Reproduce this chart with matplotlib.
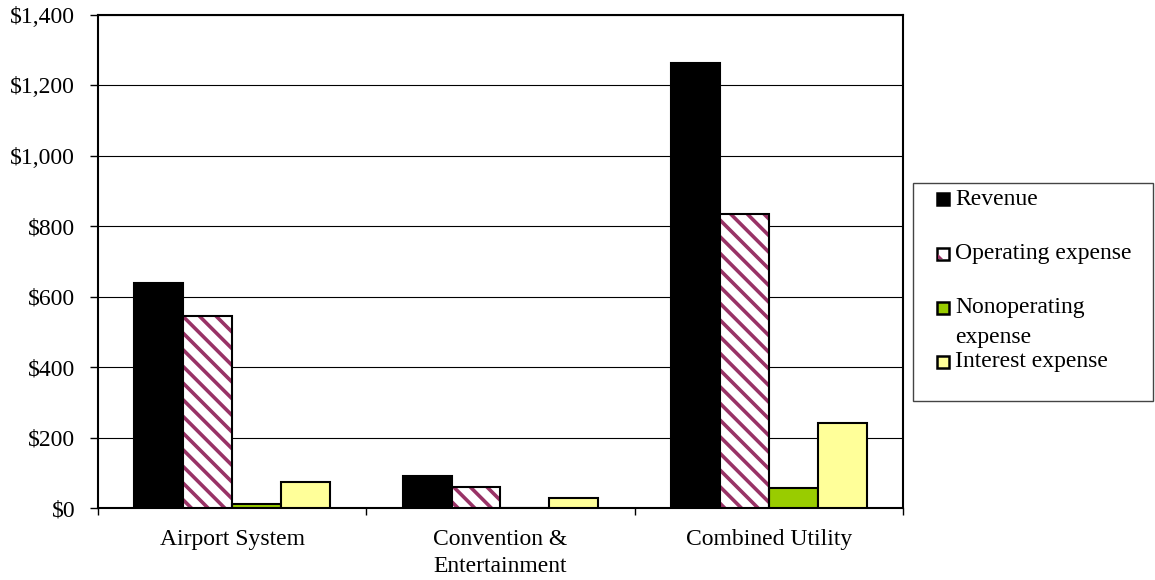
import matplotlib.pyplot as plt
import matplotlib.patches as mpatches
import numpy as np

categories = ['Airport System', 'Convention &\nEntertainment', 'Combined Utility']
series = ['Revenue', 'Operating expense', 'Nonoperating\nexpense', 'Interest expense']
revenue = [638, 91, 1263]
operating = [545, 60, 835]
nonoperating = [10, 1, 56]
interest = [75, 27, 242]
yticks = [0, 200, 400, 600, 800, 1000, 1200, 1400]

plt.rcParams['font.family'] = ['Liberation Serif', 'DejaVu Serif']
plt.rcParams['font.size'] = 17
plt.rcParams['hatch.linewidth'] = 2.6

W, H = 1155, 580
fig = plt.figure(figsize=(W / 100, H / 100), dpi=100)
ax = fig.add_axes([98 / W, 1 - 508 / H, (903 - 98) / W, (508 - 15) / H])

x = np.arange(len(categories)) + 0.5
w = 0.182
offs = (np.arange(4) - 1.5) * w

ax.bar(x + offs[0], revenue, w, color='black', edgecolor='black', lw=1.5, zorder=3)
ax.bar(x + offs[1], operating, w, color='white', edgecolor='#993366', hatch='\\\\', lw=0, zorder=3)
ax.bar(x + offs[1], operating, w, fill=False, edgecolor='black', lw=1.5, zorder=4)
ax.bar(x + offs[2], nonoperating, w, color='#99CC00', edgecolor='black', lw=1.5, zorder=3)
ax.bar(x + offs[3], interest, w, color='#FFFF99', edgecolor='black', lw=1.5, zorder=3)

ax.set_xlim(0, 3)
ax.set_ylim(0, 1400)
ax.set_yticks(yticks)
ax.set_yticklabels(['${:,}'.format(v) for v in yticks])
ax.yaxis.grid(True, color='black', lw=0.8)
ax.set_axisbelow(True)
ax.tick_params(axis='y', length=5.5, width=1, pad=11)

ax.set_xticks(x)
ax.set_xticklabels(categories, linespacing=1.4)
ax.set_xticks([0, 1, 2, 3], minor=True)
ax.tick_params(axis='x', which='major', length=0, pad=15)
ax.tick_params(axis='x', which='minor', length=5, width=1)

for s in ax.spines.values():
    s.set_linewidth(1.5)

# legend drawn by hand to keep Excel's spacing
fig.add_artist(mpatches.Rectangle((913 / W, 1 - 401 / H), (1153 - 913) / W, (401 - 183) / H,
                                  transform=fig.transFigure, fill=False, edgecolor='#444444', lw=1))
leg_y = [199, 254, 308, 362]
faces = ['black', 'white', '#99CC00', '#FFFF99']
for i, (lab, fc, yy) in enumerate(zip(series, faces, leg_y)):
    fig.add_artist(mpatches.Rectangle((937 / W, 1 - (yy + 6) / H), 12 / W, 12 / H,
                                      transform=fig.transFigure, facecolor=fc,
                                      edgecolor='black', lw=1.8))
    if i == 1:
        fig.add_artist(mpatches.Polygon([(938 / W, 1 - (yy + 5) / H), (943 / W, 1 - (yy + 5) / H),
                                         (938 / W, 1 - yy / H)], closed=True,
                                        transform=fig.transFigure, facecolor='#993366', lw=0))
    for k, line in enumerate(lab.split('\n')):
        fig.text(955 / W, 1 - (yy + 29 * k) / H, line, ha='left', va='center')

plt.savefig('out.png', dpi=100)
